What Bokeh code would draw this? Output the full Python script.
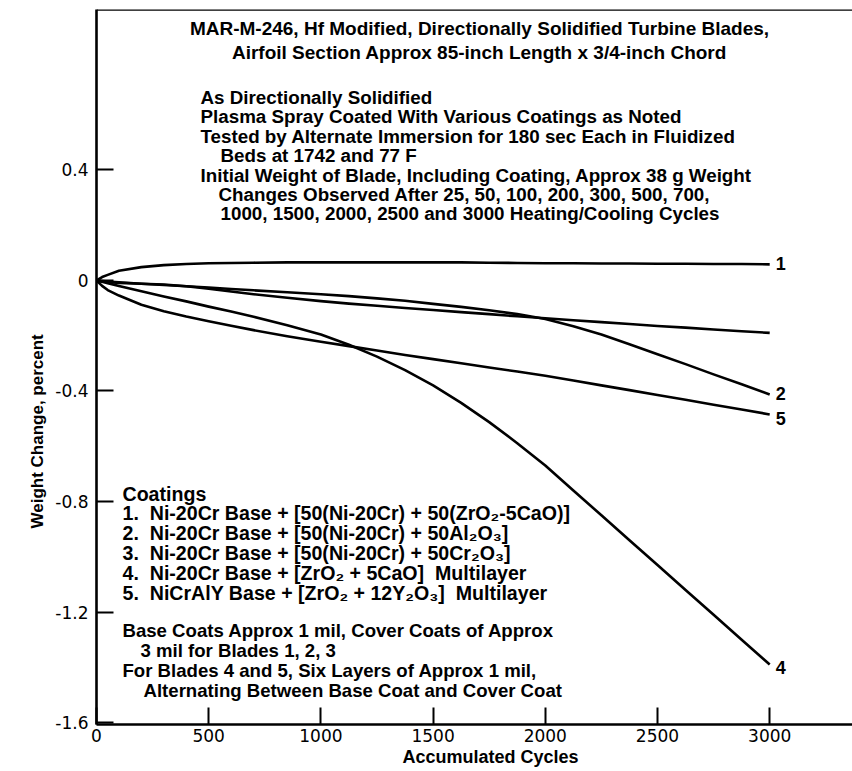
from bokeh.plotting import figure
from bokeh.models import Span, FixedTicker, Range1d, Title
from bokeh.core.properties import value
from bokeh.embed import file_html
from bokeh.resources import INLINE

# ---------------- data ----------------
cycles = [0, 25, 50, 100, 200, 300, 400, 500, 600, 700, 850, 1000,
          1125, 1250, 1375, 1500, 1625, 1750, 1875, 2000,
          2125, 2250, 2375, 2500, 2625, 2750, 2875, 3000]
blade1 = [0, 0.012, 0.02, 0.035, 0.048, 0.055, 0.059, 0.062, 0.063, 0.064, 0.065, 0.065,
          0.065, 0.065, 0.065, 0.065, 0.065, 0.064, 0.063, 0.062,
          0.062, 0.061, 0.061, 0.06, 0.06, 0.059, 0.059, 0.058]
blade2 = [0, -0.002, -0.004, -0.007, -0.012, -0.017, -0.021, -0.026, -0.031, -0.036, -0.043, -0.05,
          -0.057, -0.065, -0.074, -0.085, -0.096, -0.108, -0.122, -0.14,
          -0.166, -0.196, -0.231, -0.267, -0.303, -0.34, -0.376, -0.413]
blade3 = [0, -0.004, -0.006, -0.009, -0.012, -0.015, -0.021, -0.03, -0.04, -0.05, -0.063, -0.075,
          -0.084, -0.092, -0.1, -0.107, -0.115, -0.122, -0.13, -0.137,
          -0.144, -0.151, -0.158, -0.165, -0.171, -0.178, -0.184, -0.19]
blade4 = [0, -0.005, -0.01, -0.02, -0.039, -0.058, -0.076, -0.095, -0.113, -0.132, -0.162, -0.196,
          -0.233, -0.276, -0.325, -0.38, -0.443, -0.513, -0.589, -0.67,
          -0.76, -0.85, -0.94, -1.03, -1.12, -1.21, -1.30, -1.39]
blade5 = [0, -0.02, -0.035, -0.055, -0.088, -0.112, -0.131, -0.148, -0.164, -0.18, -0.202, -0.222,
          -0.238, -0.254, -0.27, -0.285, -0.3, -0.315, -0.33, -0.345,
          -0.362, -0.38, -0.397, -0.415, -0.432, -0.45, -0.467, -0.485]
curve_tags = ["1", "2", "", "4", "5"]   # blade 3 carries no end label in the original

x_ticks = [0, 500, 1000, 1500, 2000, 2500, 3000]
x_tick_labels = ["0", "500", "1000", "1500", "2000", "2500", "3000"]
y_ticks = [-1.6, -1.2, -0.8, -0.4, 0, 0.4]
y_tick_labels = ["-1.6", "-1.2", "-0.8", "-0.4", "0", "0.4"]

x_title = "Accumulated Cycles"
y_title = "Weight Change, percent"
title_lines = [
    "MAR-M-246, Hf Modified, Directionally Solidified Turbine Blades,",
    "Airfoil Section Approx 85-inch Length x 3/4-inch Chord",
]
cond_lines = [
    "As Directionally Solidified",
    "Plasma Spray Coated With Various Coatings as Noted",
    "Tested by Alternate Immersion for 180 sec Each in Fluidized",
    "Beds at 1742 and 77 F",
    "Initial Weight of Blade, Including Coating, Approx 38 g Weight",
    "Changes Observed After 25, 50, 100, 200, 300, 500, 700,",
    "1000, 1500, 2000, 2500 and 3000 Heating/Cooling Cycles",
]
coat_lines = [
    "Coatings",
    "1.\u00a0 Ni-20Cr Base + [50(Ni-20Cr) + 50(ZrO\u2082-5CaO)]",
    "2.\u00a0 Ni-20Cr Base + [50(Ni-20Cr) + 50Al\u2082O\u2083]",
    "3.\u00a0 Ni-20Cr Base + [50(Ni-20Cr) + 50Cr\u2082O\u2083]",
    "4.\u00a0 Ni-20Cr Base + [ZrO\u2082 + 5CaO]\u00a0 Multilayer",
    "5.\u00a0 NiCrAlY Base + [ZrO\u2082 + 12Y\u2082O\u2083]\u00a0 Multilayer",
]
base_lines = [
    "Base Coats Approx 1 mil, Cover Coats of Approx",
    "3 mil for Blades 1, 2, 3",
    "For Blades 4 and 5, Six Layers of Approx 1 mil,",
    "Alternating Between Base Coat and Cover Coat",
]

# ---------------- layout ----------------
W, H = 852, 771
FL, FT, FR, FB = 96, 9, 852, 724          # frame edges in page pixels
PX_PER_CYCLE = 0.2244
PX_PER_UNIT = 276.4
X0 = 0
X1 = X0 + (FR - FL) / PX_PER_CYCLE
Y1 = 0.98
Y0 = Y1 - (FB - FT) / PX_PER_UNIT


def dx(px):
    return X0 + (px - FL) / PX_PER_CYCLE


def dy(py):
    return Y1 - (py - FT) / PX_PER_UNIT


p = figure(width=W, height=H, output_backend="svg", toolbar_location=None,
           x_range=Range1d(X0, X1), y_range=Range1d(Y0, Y1),
           min_border_left=FL, min_border_right=W - FR,
           min_border_top=FT, min_border_bottom=H - FB)
p.background_fill_color = "white"
p.border_fill_color = "white"
p.outline_line_color = None
p.grid.visible = False

FONT_N = value("Liberation Sans")

for ax, ticks, labels in ((p.xaxis, x_ticks, x_tick_labels), (p.yaxis, y_ticks, y_tick_labels)):
    ax.ticker = FixedTicker(ticks=ticks)
    ax.major_label_overrides = {t: l for t, l in zip(ticks, labels)}
    ax.axis_line_width = 2.6
    ax.axis_line_color = "black"
    ax.major_tick_in = 17
    ax.major_tick_out = 0
    ax.major_tick_line_width = 2
    ax.major_tick_line_color = "black"
    ax.minor_tick_line_color = None
    ax.major_label_text_font = "DejaVu Sans"
    ax.major_label_text_font_size = "17px"
    ax.major_label_text_color = "black"
p.xaxis.major_label_standoff = 4
p.yaxis.major_label_standoff = 8

# axis titles as side titles so they can sit off-centre like the original
p.add_layout(Title(text=x_title, align="left", offset=306, standoff=0,
                   text_font="Liberation Sans", text_font_style="bold",
                   text_font_size="18px", text_color="black"), "below")
p.add_layout(Title(text=y_title, align="left", offset=196, standoff=11,
                   text_font="Liberation Sans", text_font_style="bold",
                   text_font_size="17px", text_color="black"), "left")

# top frame line (no right border in the original)
p.add_layout(Span(location=Y1, dimension="width", line_color="black", line_width=2.6))

# ---------------- curves ----------------
series = [blade1, blade2, blade3, blade4, blade5]
for ys in series:
    p.line(cycles, ys, line_color="black", line_width=2.6, line_join="round")

tag_x, tag_y, tag_t, tag_off = [], [], [], []
extra_down = {"1": -1, "2": -1, "4": 3, "5": 4}
for tag, ys in zip(curve_tags, series):
    if not tag:
        continue
    tag_x.append(cycles[-1])
    tag_y.append(ys[-1])
    tag_t.append(tag)
    tag_off.append(extra_down[tag])
p.text(x=tag_x, y=tag_y, text=tag_t, x_offset=6, y_offset=tag_off,
       text_font=FONT_N, text_font_style="bold", text_font_size="18px",
       text_align="left", text_baseline="middle", text_color="black")


# ---------------- notes ----------------
def block(lines, xs, y_first, step, size, align="left"):
    ys = [dy(y_first + i * step) for i in range(len(lines))]
    p.text(x=[dx(v) for v in xs], y=ys, text=lines,
           text_font=FONT_N, text_font_style="bold", text_font_size=size,
           text_align=align, text_baseline="middle", text_color="black")


block(title_lines, [479, 479], 28, 24, "19px", align="center")
block(cond_lines, [200, 200, 200, 220, 200, 218, 220], 97, 19.4, "18.8px")
block(coat_lines, [122] * 6, 493, 19.8, "19.6px")
block(base_lines, [122, 140, 122, 143], 630, 20, "18.6px")

open("out.html", "w").write(file_html(p, INLINE))
